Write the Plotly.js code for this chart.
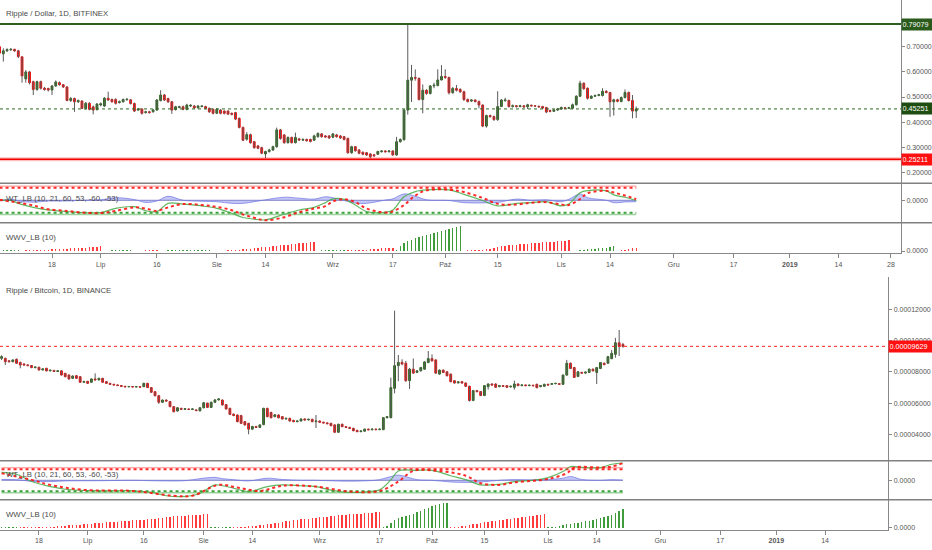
<!DOCTYPE html>
<html><head><meta charset="utf-8">
<script src="https://cdn.plot.ly/plotly-3.0.1.min.js"></script>
<style>html,body{margin:0;padding:0;background:#fff}#chart{width:932px;height:550px}</style>
</head><body><div id="chart"></div>
<script>
// ---------- XRP/USD (Bitfinex), daily from 2018-06-04 ----------
const topStart = '2018-06-04';
const topOpen = [.700,.672,.684,.688,.690,.684,.660,.572,.600,.561,.530,.561,.535,.534,.528,.544,.557,.549,.540,.486,.494,.481,.484,.455,.475,.461,.450,.468,.464,.495,.490,.490,.478,.481,.489,.489,.474,.448,.452,.438,.441,.441,.448,.486,.508,.494,.481,.450,.458,.461,.451,.464,.464,.457,.462,.462,.455,.451,.435,.448,.444,.444,.435,.438,.415,.379,.332,.350,.322,.305,.298,.273,.283,.289,.302,.369,.349,.318,.339,.318,.333,.328,.331,.331,.328,.342,.353,.345,.345,.340,.349,.345,.342,.335,.278,.302,.289,.280,.278,.273,.270,.272,.282,.285,.282,.285,.269,.322,.330,.448,.567,.578,.574,.490,.527,.514,.544,.546,.568,.582,.578,.517,.534,.530,.521,.490,.484,.488,.482,.468,.384,.426,.422,.410,.462,.485,.486,.462,.465,.462,.465,.461,.467,.465,.463,.462,.458,.446,.443,.448,.452,.457,.455,.455,.469,.503,.555,.535,.495,.503,.506,.506,.523,.518,.481,.489,.482,.498,.518,.486,.444];
const topHigh = [.705,.694,.694,.695,.692,.688,.662,.607,.604,.565,.565,.565,.540,.537,.548,.566,.562,.552,.543,.500,.498,.490,.487,.480,.479,.466,.476,.478,.500,.521,.494,.495,.486,.494,.495,.492,.478,.456,.455,.445,.445,.452,.492,.527,.512,.497,.484,.465,.465,.466,.473,.471,.468,.468,.467,.465,.458,.454,.456,.452,.447,.447,.438,.441,.418,.382,.360,.354,.325,.309,.302,.286,.294,.306,.378,.373,.352,.343,.342,.358,.337,.335,.334,.334,.350,.359,.356,.348,.348,.357,.353,.348,.345,.338,.306,.305,.292,.283,.281,.276,.273,.286,.288,.288,.288,.288,.341,.335,.452,.7908,.628,.610,.578,.550,.531,.548,.557,.610,.627,.610,.581,.540,.548,.535,.525,.494,.492,.491,.486,.471,.430,.430,.426,.523,.492,.497,.490,.470,.468,.469,.468,.473,.470,.468,.466,.465,.461,.450,.452,.456,.462,.461,.461,.474,.507,.565,.558,.538,.507,.510,.513,.535,.527,.521,.493,.493,.502,.530,.522,.508,.462];
const topLow = [.670,.641,.680,.684,.680,.655,.557,.557,.550,.508,.525,.530,.525,.522,.508,.540,.545,.536,.483,.480,.441,.476,.452,.450,.447,.431,.446,.463,.460,.485,.478,.470,.474,.478,.486,.470,.440,.444,.430,.434,.434,.438,.445,.482,.484,.476,.433,.446,.455,.447,.447,.460,.453,.454,.459,.451,.437,.431,.432,.431,.431,.428,.427,.408,.375,.325,.326,.314,.294,.292,.272,.256,.278,.285,.298,.330,.314,.315,.315,.315,.325,.325,.322,.319,.325,.338,.338,.337,.333,.336,.338,.333,.327,.274,.274,.282,.272,.268,.265,.256,.262,.269,.279,.279,.279,.266,.266,.318,.326,.430,.480,.565,.486,.435,.509,.510,.535,.542,.566,.572,.510,.513,.522,.516,.484,.478,.480,.478,.455,.380,.378,.418,.405,.405,.460,.482,.458,.458,.458,.459,.457,.452,.461,.460,.457,.452,.436,.439,.440,.445,.449,.452,.452,.452,.466,.500,.529,.490,.492,.500,.503,.502,.514,.421,.426,.479,.479,.494,.482,.415,.416];
const topClose = [.675,.684,.689,.690,.684,.661,.584,.600,.557,.530,.561,.535,.530,.528,.544,.560,.549,.540,.486,.494,.481,.486,.455,.475,.451,.448,.472,.473,.495,.488,.481,.475,.481,.490,.491,.474,.444,.452,.435,.441,.438,.448,.488,.508,.488,.481,.448,.461,.461,.451,.468,.467,.457,.464,.464,.455,.441,.435,.451,.435,.435,.432,.431,.412,.379,.328,.350,.318,.298,.296,.276,.283,.289,.302,.369,.335,.318,.339,.318,.339,.329,.331,.326,.323,.345,.355,.342,.341,.337,.353,.342,.337,.331,.278,.302,.286,.276,.272,.269,.262,.266,.283,.285,.282,.285,.269,.322,.331,.448,.567,.578,.575,.490,.527,.514,.544,.547,.568,.582,.578,.517,.534,.527,.521,.490,.482,.488,.482,.468,.384,.426,.422,.410,.462,.488,.488,.462,.465,.462,.465,.461,.469,.465,.464,.461,.456,.440,.443,.448,.452,.458,.455,.457,.469,.503,.555,.533,.495,.503,.506,.509,.523,.518,.481,.489,.483,.498,.518,.486,.444,.4525];
const topLevels = [0.79079, 0.45251, 0.25211];

// ---------- XRP/BTC (Binance), daily from 2018-06-08, in satoshi ----------
const botStart = '2018-06-08';
const SAT = 1e-8;
const botOpen = [8862,8862,8700,8649,8800,8600,8500,8440,8400,8270,8290,8115,8222,8060,8090,8020,8060,7902,7795,7582,7750,7689,7330,7390,7330,7540,7480,7582,7369,7262,7200,7160,7120,7070,7040,7060,7030,7050,7049,7262,6990,6729,6470,6050,6190,6100,5770,5490,5660,5600,5620,5590,5560,5500,5700,5990,5720,6050,6200,6190,5900,5660,5290,5235,5200,4810,4700,4330,4500,4440,4620,5660,5400,5130,5235,5130,4980,5020,4890,4810,4850,4980,4920,4960,4810,4850,4770,4730,4700,4600,4130,4640,4490,4440,4380,4250,4170,4200,4330,4290,4330,4300,4300,5060,5065,6942,8392,8606,8549,7430,8169,7960,8063,8169,8591,8844,8760,7852,8106,8000,7852,7430,7290,7367,7283,7072,6164,6797,6734,6481,7050,7219,7219,7051,7114,7114,7030,7008,7219,7114,7156,7114,7140,7198,7051,7072,7198,7200,7240,7240,7198,7789,8549,8274,7705,7960,7916,7958,8169,7958,8211,8549,8549,8844,9118,9857,9751];
const botHigh = [9060,8900,8760,8800,8850,8650,8540,8480,8430,8350,8330,8230,8260,8140,8120,8100,8090,7930,7830,7770,7790,7720,7420,7420,7580,7900,7620,7610,7400,7290,7230,7190,7150,7100,7090,7090,7080,7080,7300,7290,7020,6760,6500,6230,6230,6130,5800,5740,5700,5680,5650,5660,5600,5740,6060,6030,6090,6250,6300,6230,5930,5700,5330,5270,5240,4850,4740,4540,4540,4640,5700,5700,5440,5290,5270,5160,5060,5060,4930,4890,5020,5020,5000,5000,5235,4890,4810,4770,4740,4640,4680,4680,4530,4480,4420,4290,4250,4370,4370,4370,4370,4370,5100,5170,7625,11912,9075,8800,8696,8250,8850,8100,8310,8680,9330,9118,8800,8150,8150,8040,7890,7470,7390,7400,7320,7110,6840,6840,6770,7150,7260,7260,7260,7150,7150,7150,7110,7430,7260,7190,7190,7180,7170,7240,7150,7240,7240,7270,7290,7270,7830,8760,8590,8310,8040,8000,8020,8210,8210,8310,8630,8590,9020,9400,10173,10675,9850];
const botLow = [8750,8435,8600,8600,8500,8222,8400,8350,8230,8220,8080,8090,8030,8030,7990,7990,7760,7650,7500,7550,7550,7300,7290,7230,7300,7450,7450,7300,7230,7170,7130,7090,7040,7010,7010,7000,7000,6990,7020,6960,6650,6430,5950,6000,6090,5730,5400,5450,5560,5560,5550,5550,5480,5470,5660,5680,5690,6000,6160,5840,5580,5230,5160,4770,4660,4560,4000,4290,4400,4400,4580,5090,5020,5090,5020,4940,4940,4810,4770,4770,4810,4880,4880,4770,4400,4730,4690,4640,4510,4090,4090,4450,4400,4340,4190,4130,4130,4160,4250,4250,4260,4260,4260,5020,5020,6622,7400,8420,7360,6903,7870,7920,8020,8130,8550,8660,7870,7810,7920,7700,7330,7240,7250,7240,7030,6100,6120,6690,6440,6440,6860,7110,6970,7010,7030,6970,7000,6861,7080,7080,7080,7080,7070,6940,7010,7040,7120,7170,7200,7170,7160,7750,8170,7600,7660,7880,7880,7920,8020,7219,8170,8420,8510,8800,8900,9013,9540];
const botClose = [8969,8649,8649,8755,8542,8435,8440,8400,8270,8300,8115,8180,8060,8100,8020,8060,7795,7689,7540,7730,7582,7330,7380,7262,7540,7480,7582,7330,7262,7200,7160,7120,7070,7040,7060,7030,7050,7020,7262,6990,6690,6470,6050,6190,6130,5770,5449,5700,5600,5640,5590,5620,5520,5700,6020,5720,6050,6200,6260,5880,5620,5270,5200,4810,4700,4600,4330,4500,4440,4600,5660,5130,5060,5250,5060,4980,5020,4850,4810,4850,4980,4920,4960,4810,4850,4770,4730,4680,4550,4130,4640,4490,4440,4380,4230,4170,4210,4330,4290,4330,4300,4330,5060,5130,6985,8392,8606,8500,7430,8169,7916,8060,8274,8633,8844,8700,7916,8106,7958,7747,7367,7283,7350,7283,7072,6164,6797,6730,6481,7114,7219,7156,7008,7114,7072,7008,7072,7219,7114,7156,7114,7140,7110,6987,7114,7198,7156,7240,7262,7200,7789,8549,8211,7641,8000,7916,7980,8169,8063,8274,8591,8460,8971,9182,9857,9646,9629];
const botLevels = [0.00009629];

// ---------- WaveTrend (WT_LB) readings: day index -> value ----------
const wtTopIdx = [0,3,5,9,13,18,22,27,31,36,39,42,45,49,54,58,62,65,68,71,76,80,84,87,89,92,95,98,103,105,108,111,114,120,124,129,133,138,142,146,150,152,155,157,162,164,167,170];
const wt1Top = [-1,0,-13,-30,-41,-48,-52,-52,-34,-27,-44,-48,-13,-16,-24,-34,-55,-73,-80,-83,-59,-41,-30,-10,6,4,-20,-48,-51,-41,15,37,44,44,25,-1,-24,-13,-10,-6,-24,-16,32,41,40,23,13,-1];
const wt2Top = [2,-5,-10,-22,-38,-45,-52,-54,-45,-30,-35,-45,-30,-16,-20,-28,-42,-60,-74,-85,-72,-50,-35,-25,-5,5,-8,-35,-52,-47,-20,20,42,45,35,10,-15,-18,-10,-8,-18,-20,5,30,40,33,20,5];
const wtDiffTop = [-3,5,-3,-8,-3,-3,0,2,11,3,-9,-3,17,0,-4,-6,-13,-13,-6,2,13,9,5,15,11,-1,-12,-13,1,6,27,17,2,-1,-10,-11,-9,5,0,2,-6,4,27,11,0,-10,-7,-6];
const wt1BotIdx = [0,4,8,13,17,26,35,40,44,49,53,57,59,62,66,71,75,80,84,89,93,98,101,104,106,111,115,120,124,128,133,137,142,146,150,152,155,160,163,166];
const wt1Bot = [38,29,-6,-30,-43,-51,-50,-58,-74,-77,-63,-22,-26,-38,-54,-30,-22,-26,-30,-51,-58,-54,-46,2,45,48,48,22,3,-22,-19,-6,0,13,42,66,62,61,77,83];
const wtDiffBot = [4,3,-5,-6,-3,-2,0,-2,-3,-2,8,14,8,3,-3,10,4,0,0,-3,-4,-2,3,18,25,3,0,-8,-10,-8,0,3,2,4,10,18,4,0,3,1];
const wt2BotIdx = [0,8,13,22,35,46,51,58,63,69,75,84,93,101,106,110,115,124,128,133,137,142,146,151,153,160,163,166];
const wt2Bot = [34,2,-22,-46,-51,-74,-74,-22,-35,-51,-26,-30,-54,-51,-6,45,48,22,-14,-22,-10,-2,6,34,61,61,66,82];
const wtLevels = [60, 53, -53, -60];

// ---------- WWV_LB (10) histogram: + green, - red ----------
const wwvTop = [.7,.7,.7,.7,.7,.7,
 -.5,-.6,-.7,-.8,-1.0,-1.2,-1.3,-1.5,-1.7,-1.8,-2.0,-2.2,-2.4,-2.6,-2.8,-3.0,-3.3,-3.5,-3.8,-4.1,-4.4,-4.7,
 .4,.4,.6,.6,.6,.6,.6,.6,-.3,-.3,-.3,-.6,-.6,-.6,-.6,.3,.3,.6,.6,.6,.6,.6,1,1,1,1,1,1,1,-.3,-.3,-.3,
 -.5,-.6,-.8,-1.0,-1.3,-1.6,-2.0,-2.4,-2.8,-3.2,-3.6,-4.0,-4.4,-4.8,-5.2,-5.6,-6.0,-6.4,-6.8,-7.2,-7.6,-8.0,-8.3,-8.6,-9.0,
 .3,.6,.6,.6,.6,.6,1,1,
 -.6,-.6,-.7,-.7,-.8,-1.5,-1.8,-2.1,-2.4,-2.7,-3.0,-3.2,-3.4,
 1,5,8,10,11.5,13,14,15.5,16.5,17.5,18.5,19.5,20.5,21.5,22.5,23.5,24.3,25,
 -.5,-.6,-.7,-.8,-.9,-1.0,
 -1.7,-2.5,-3.3,-4.0,-4.6,-5.1,-5.6,-6.0,-6.4,-6.8,-7.1,-7.4,-7.7,-8.0,-8.3,-8.6,-8.9,-9.2,-9.5,-9.8,-10.1,-10.4,-10.7,
 .3,.5,.8,1.2,1.6,2.0,2.4,2.7,3.0,3.4,4.5,5.0,
 -.5,-.8,-1.2,-2.0,-2.8,-3.3];
const wwvBot = [.7,.7,.7,.7,.7,-.3,-.3,-.3,
 -.4,-.5,-.6,-.8,-.9,-1.0,-1.2,-1.5,-1.7,-2.0,-2.3,-2.6,-2.9,-3.2,-3.5,-3.8,-4.1,-4.4,-4.7,-5.0,-5.3,-5.6,-5.8,-6.1,-6.4,-6.7,-7.0,-7.3,-7.6,-7.9,-8.2,-8.5,-8.8,-9.2,-9.7,-10.2,-10.7,-11.0,-11.3,-11.6,-11.9,-12.1,-12.3,-12.5,-12.7,-13.0,-13.4,-13.7,
 .3,.6,.6,.6,.6,.6,
 -.4,-.6,-.8,-1.0,-1.3,-1.7,-2.1,-2.6,-3.1,-3.6,-4.1,-4.6,-5.2,-5.8,-6.3,-6.8,-7.3,-7.8,-8.3,-8.7,-9.1,-9.5,-9.9,-10.3,-10.7,-11.1,-11.5,-11.9,-12.3,-12.7,-13.0,-13.3,-13.6,-13.9,-14.2,-14.5,-14.8,-15.2,-15.6,-16.0,
 .5,1.5,5,8,9.5,10.5,11.5,12.5,14,15.5,17,18.5,20,21.5,22.5,23.5,24.5,25,
 -.5,-.8,-1.2,-1.6,-2.0,-2.8,-3.5,-4.2,-5.0,-5.6,-6.1,-6.6,-7.0,-7.3,-7.8,-8.3,-8.8,-9.3,-9.9,-10.4,-10.9,-11.4,-11.8,-12.3,-12.8,-13.3,
 .3,.4,.8,1.5,2.5,3.3,4.0,4.6,5.2,5.8,6.3,6.8,7.5,8.5,9.3,10.3,11.5,13.0,15.0,16.5,18.3];

// ---------- axis ticks ----------
const topTickVals = ['2018-06-18','2018-07-01','2018-07-16','2018-08-01','2018-08-14','2018-09-01','2018-09-17','2018-10-01','2018-10-15','2018-11-01','2018-11-14','2018-12-01','2018-12-17','2019-01-01','2019-01-14','2019-01-28'];
const topTickText = ['18','Lip','16','Sie','14','Wrz','17','Paź','15','Lis','14','Gru','17','<b>2019</b>','14','28'];
const botTickVals = topTickVals.slice(0, 15);
const botTickText = topTickText.slice(0, 15);
const topPriceTicks = [0.2,0.3,0.4,0.5,0.6,0.7];
const botPriceTicks = [0.00004,0.00006,0.00008,0.0001,0.00012];

// ---------- helpers ----------
function dayList(start, n){ const t0=Date.parse(start+'T00:00:00Z'); const o=[]; for(let i=0;i<n;i++) o.push(new Date(t0+i*864e5).toISOString().slice(0,10)); return o; }
const topDates = dayList(topStart, topClose.length);
const botDates = dayList(botStart, botClose.length);
const UP='#2e6b1f', DN='#f01010', WICK='#5a5a5a';
const GREEN_BAR='#3f9c3a', RED_BAR='#ff3b3b';

function candleTraces(dates,o,h,l,c,scale,xa,ya){
  const wx=[], wy=[];
  for(let i=0;i<dates.length;i++){ wx.push(dates[i],dates[i],null); wy.push(l[i]*scale,h[i]*scale,null); }
  const oo=o.map(v=>v*scale), cc=c.map(v=>v*scale);
  return [
    {type:'scatter',mode:'lines',x:wx,y:wy,xaxis:xa,yaxis:ya,line:{color:WICK,width:1},hoverinfo:'skip'},
    {type:'candlestick',x:dates,open:oo,close:cc,high:oo.map((v,i)=>Math.max(v,cc[i])),low:oo.map((v,i)=>Math.min(v,cc[i])),
     xaxis:xa,yaxis:ya,increasing:{line:{color:UP,width:1},fillcolor:UP},decreasing:{line:{color:DN,width:1},fillcolor:DN},
     whiskerwidth:0,hoverinfo:'skip'}
  ];
}
function wtTraces(dates,idx1,w1,diff,idx2,w2,xa,ya){
  const x1=idx1.map(i=>dates[i]), x2=idx2.map(i=>dates[i]);
  return [
    {type:'scatter',mode:'lines',x:x1,y:diff,xaxis:xa,yaxis:ya,fill:'tozeroy',fillcolor:'rgba(125,130,235,0.45)',line:{color:'rgba(110,115,225,0.7)',width:1,shape:'spline'},hoverinfo:'skip'},
    {type:'scatter',mode:'lines',x:x1,y:w1,xaxis:xa,yaxis:ya,line:{color:'rgba(70,170,70,0.85)',width:1.2,shape:'spline'},hoverinfo:'skip'},
    {type:'scatter',mode:'lines',x:x2,y:w2,xaxis:xa,yaxis:ya,line:{color:'rgba(255,20,20,0.9)',width:2,dash:'dot',shape:'spline'},hoverinfo:'skip'}
  ];
}
function wwvTrace(dates,vals,xa,ya){
  return {type:'bar',x:dates,y:vals.map(Math.abs),xaxis:xa,yaxis:ya,width:0.38*864e5,
    marker:{color:vals.map(v=>v>=0?GREEN_BAR:RED_BAR),line:{width:0}},hoverinfo:'skip'};
}

const data = [].concat(
  candleTraces(topDates,topOpen,topHigh,topLow,topClose,1,'x','y'),
  wtTraces(topDates,wtTopIdx,wt1Top,wtDiffTop,wtTopIdx,wt2Top,'x','y2'),
  [wwvTrace(topDates,wwvTop,'x','y3')],
  candleTraces(botDates,botOpen,botHigh,botLow,botClose,SAT,'x2','y4'),
  wtTraces(botDates,wt1BotIdx,wt1Bot,wtDiffBot,wt2BotIdx,wt2Bot,'x2','y5'),
  [wwvTrace(botDates,wwvBot,'x2','y6')]
);

const H=550, W=932;
const py = px => 1 - px/H;
const TOPR = 901/W, BOTR = 888.3/W;
const tickFont = {family:'Liberation Sans, Arial, sans-serif', size:7, color:'#555'};
const lblFont = {family:'Liberation Sans, Arial, sans-serif', size:7.8, color:'#4a4a4a'};
function yax(dom, rng, anchor, extra){
  return Object.assign({domain:dom, range:rng, anchor:anchor, side:'right', showgrid:false, zeroline:false,
    showline:true, linecolor:'#888', linewidth:1, ticks:'outside', ticklen:3, tickcolor:'#888', tickfont:tickFont, fixedrange:true}, extra);
}
function xax(dom, rng, anchor, tv, tt){
  return {type:'date', domain:dom, range:rng, anchor:anchor, showgrid:false, zeroline:false, showline:true, linecolor:'#888',
    ticks:'outside', ticklen:4, tickcolor:'#888', tickvals:tv, ticktext:tt, tickfont:tickFont, rangeslider:{visible:false}, fixedrange:true};
}

const shapes = [];
// panel separators
[183.3, 222.7, 460.7, 499.7].forEach(p => shapes.push({type:'line',xref:'paper',yref:'paper',x0:0,x1:1,y0:py(p),y1:py(p),line:{color:'#808080',width:1.5}}));
// price levels
shapes.push({type:'line',xref:'paper',yref:'y',x0:0,x1:TOPR,y0:topLevels[0],y1:topLevels[0],line:{color:'#2f5f20',width:2}});
shapes.push({type:'line',xref:'paper',yref:'y',x0:0,x1:TOPR,y0:topLevels[1],y1:topLevels[1],line:{color:'#2e6b1f',width:1,dash:'dot'}});
shapes.push({type:'line',xref:'paper',yref:'y',x0:0,x1:TOPR,y0:topLevels[2],y1:topLevels[2],line:{color:'rgba(255,0,0,0.25)',width:4}});
shapes.push({type:'line',xref:'paper',yref:'y',x0:0,x1:TOPR,y0:topLevels[2],y1:topLevels[2],line:{color:'#f20000',width:1.6}});
shapes.push({type:'line',xref:'paper',yref:'y4',x0:0,x1:BOTR,y0:botLevels[0],y1:botLevels[0],line:{color:'#ff2020',width:1,dash:'dot'}});
// WT levels
function wtLevelShapes(dates, xa, ya){
  const x0=dates[0], x1=dates[dates.length-1];
  const st=[{color:'rgba(255,40,40,0.55)',width:1},{color:'rgba(255,20,20,0.9)',width:2,dash:'dot'},
            {color:'rgba(40,150,40,0.9)',width:2,dash:'dot'},{color:'rgba(60,170,60,0.5)',width:1.5}];
  wtLevels.forEach((v,k)=>shapes.push({type:'line',xref:xa,yref:ya,x0:x0,x1:x1,y0:v,y1:v,line:st[k],layer:'below'}));
  shapes.push({type:'line',xref:xa,yref:ya,x0:x0,x1:x1,y0:0,y1:0,line:{color:'rgba(120,120,190,0.9)',width:1},layer:'below'});
}
wtLevelShapes(topDates,'x','y2');
wtLevelShapes(botDates,'x2','y5');

const annotations = [];
function txt(t, xpx, ypx, font){ annotations.push({text:t, xref:'paper', yref:'paper', x:xpx/W, y:py(ypx), xanchor:'left', yanchor:'middle', showarrow:false, font:font||lblFont}); }
txt('Ripple / Dollar, 1D, BITFINEX', 4, 13);
txt('WT_LB (10, 21, 60, 53, -60, -53)', 4, 198.5);
txt('WWV_LB (10)', 4, 237);
txt('Ripple / Bitcoin, 1D, BINANCE', 4, 290);
txt('WT_LB (10, 21, 60, 53, -60, -53)', 4, 474);
txt('WWV_LB (10)', 4, 514.5);
function priceBox(val, ya, x, w, bg, digits){
  annotations.push({text:val.toFixed(digits), xref:'paper', yref:ya, x:x, y:val, xanchor:'left', yanchor:'middle', showarrow:false,
    bgcolor:bg, width:w, height:10, borderpad:0.5, align:'left', font:{family:'Liberation Sans, Arial, sans-serif', size:7.2, color:'#fff'}});
}
priceBox(topLevels[0],'y',TOPR,30,'#2a5a1c',5);
priceBox(topLevels[1],'y',TOPR,30,'#1e4d12',5);
priceBox(topLevels[2],'y',TOPR,30,'#ff1010',5);
priceBox(botLevels[0],'y4',BOTR,43,'#ff1010',8);

const layout = {
  width:W, height:H, margin:{l:0,r:0,t:0,b:0}, paper_bgcolor:'#fff', plot_bgcolor:'#fff', showlegend:false,
  xaxis: xax([0,TOPR], ['2018-06-04 02:45','2019-01-30 16:48'], 'y3', topTickVals, topTickText),
  xaxis2: xax([0,BOTR], ['2018-06-07 14:00','2019-01-30 21:40'], 'y6', botTickVals, botTickText),
  yaxis: yax([py(183.3),1], [0.1562,0.8865], 'x', {tickvals:topPriceTicks, tickformat:'.5f'}),
  yaxis2: yax([py(222.7),py(183.3)], [-95,72], 'x', {tickvals:[0], ticktext:['0.0000']}),
  yaxis3: yax([py(253.3),py(222.7)], [-2.3,28.4], 'x', {tickvals:[0], ticktext:['0.0000']}),
  yaxis4: yax([py(460.7),py(277.3)], [0.0000231,0.00014048], 'x2', {tickvals:botPriceTicks, tickformat:'.8f'}),
  yaxis5: yax([py(499.7),py(460.7)], [-93,94], 'x2', {tickvals:[0], ticktext:['0.0000']}),
  yaxis6: yax([py(530),py(499.7)], [-2.3,28], 'x2', {tickvals:[0], ticktext:['0.0000']}),
  shapes:shapes, annotations:annotations, bargap:0
};
Plotly.newPlot('chart', data, layout, {staticPlot:true, displayModeBar:false});
</script></body></html>
